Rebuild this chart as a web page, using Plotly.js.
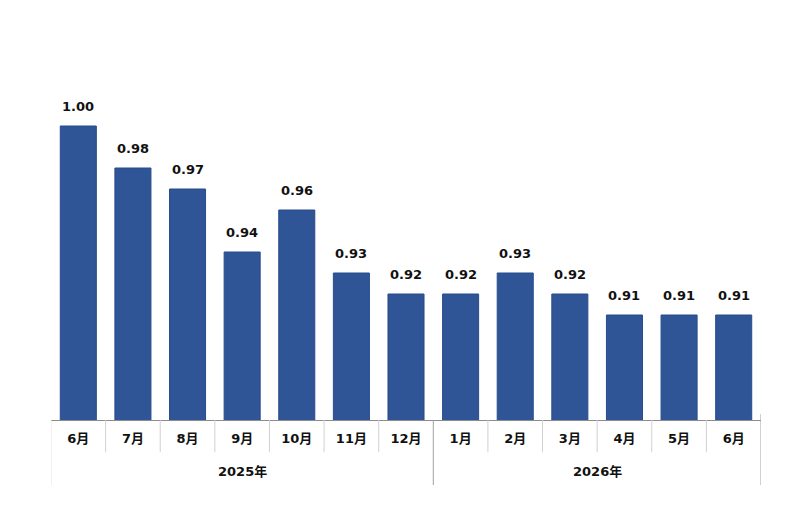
<!DOCTYPE html>
<html>
<head>
<meta charset="utf-8">
<script src="https://cdn.plot.ly/plotly-3.0.1.min.js"></script>
<style>
  html, body { margin: 0; padding: 0; background: #fff; }
  #chart { width: 800px; height: 508px; }
</style>
</head>
<body>
<div id="chart"></div>
<script>
const months = ['6月', '7月', '8月', '9月', '10月', '11月', '12月', '1月', '2月', '3月', '4月', '5月', '6月'];
const values = [1.00, 0.98, 0.97, 0.94, 0.96, 0.93, 0.92, 0.92, 0.93, 0.92, 0.91, 0.91, 0.91];
const years = ['2025年', '2026年'];
const yearStarts = [0, 7]; // index of first month in each year

const FONT = 'DejaVu Sans, Verdana, Noto Sans CJK JP, sans-serif';
const idx = months.map((_, i) => i);

const trace = {
  type: 'bar',
  x: idx,
  y: values,
  width: 0.66,
  marker: { color: '#2F5597', line: { color: '#284c8c', width: 1 } },
  hoverinfo: 'skip',
};

// value labels above bars
const annotations = values.map((v, i) => ({
  x: i, y: v, xref: 'x', yref: 'y',
  text: '<b>' + v.toFixed(2) + '</b>',
  showarrow: false, yanchor: 'bottom', yshift: 10,
  font: { family: FONT, size: 13, color: '#111' },
}));

// year labels, centred under their months
years.forEach((yr, k) => {
  const start = yearStarts[k];
  const end = (k + 1 < yearStarts.length ? yearStarts[k + 1] : months.length) - 1;
  annotations.push({
    x: (start + end) / 2, y: -0.135, xref: 'x', yref: 'paper',
    text: '<b>' + yr + '</b>', showarrow: false, yanchor: 'middle',
    font: { family: FONT, size: 13, color: '#111' },
  });
});

// separators between months and between years
const shapes = [];
for (let i = 0; i < months.length - 1; i++) {
  if (yearStarts.includes(i + 1)) continue;
  shapes.push({
    type: 'line', xref: 'x', yref: 'paper',
    x0: i + 0.5, x1: i + 0.5, y0: 0, y1: -0.085,
    line: { color: '#d0d0d0', width: 1 },
  });
}
const yearEdges = [...yearStarts.map(s => s - 0.5), months.length - 0.5];
yearEdges.forEach((e, k) => {
  shapes.push({
    type: 'line', xref: 'x', yref: 'paper',
    x0: e, x1: e, y0: k === yearEdges.length - 1 ? 0.016 : 0, y1: -0.172,
    line: { color: k === 0 ? '#e4e4e4' : '#a0a0a0', width: 1 },
  });
});

const layout = {
  width: 800,
  height: 508,
  paper_bgcolor: '#fff',
  plot_bgcolor: '#fff',
  margin: { t: 42, r: 39, b: 88, l: 51 },
  showlegend: false,
  font: { family: FONT, size: 13, color: '#111' },
  xaxis: {
    range: [-0.5, months.length - 0.5],
    tickmode: 'array',
    tickvals: idx,
    ticktext: months.map(m => '<b>' + m + '</b>'),
    ticks: '',
    showgrid: false,
    zeroline: false,
    showline: true,
    linecolor: '#8c8c8c',
    linewidth: 1,
    ticklabelstandoff: 6,
    tickfont: { family: FONT, size: 13, color: '#111' },
    fixedrange: true,
  },
  yaxis: {
    range: [0.86, 1.04],
    visible: false,
    showgrid: false,
    zeroline: false,
    fixedrange: true,
  },
  annotations,
  shapes,
};

Plotly.newPlot('chart', [trace], layout, { displayModeBar: false, staticPlot: true });
</script>
</body>
</html>
